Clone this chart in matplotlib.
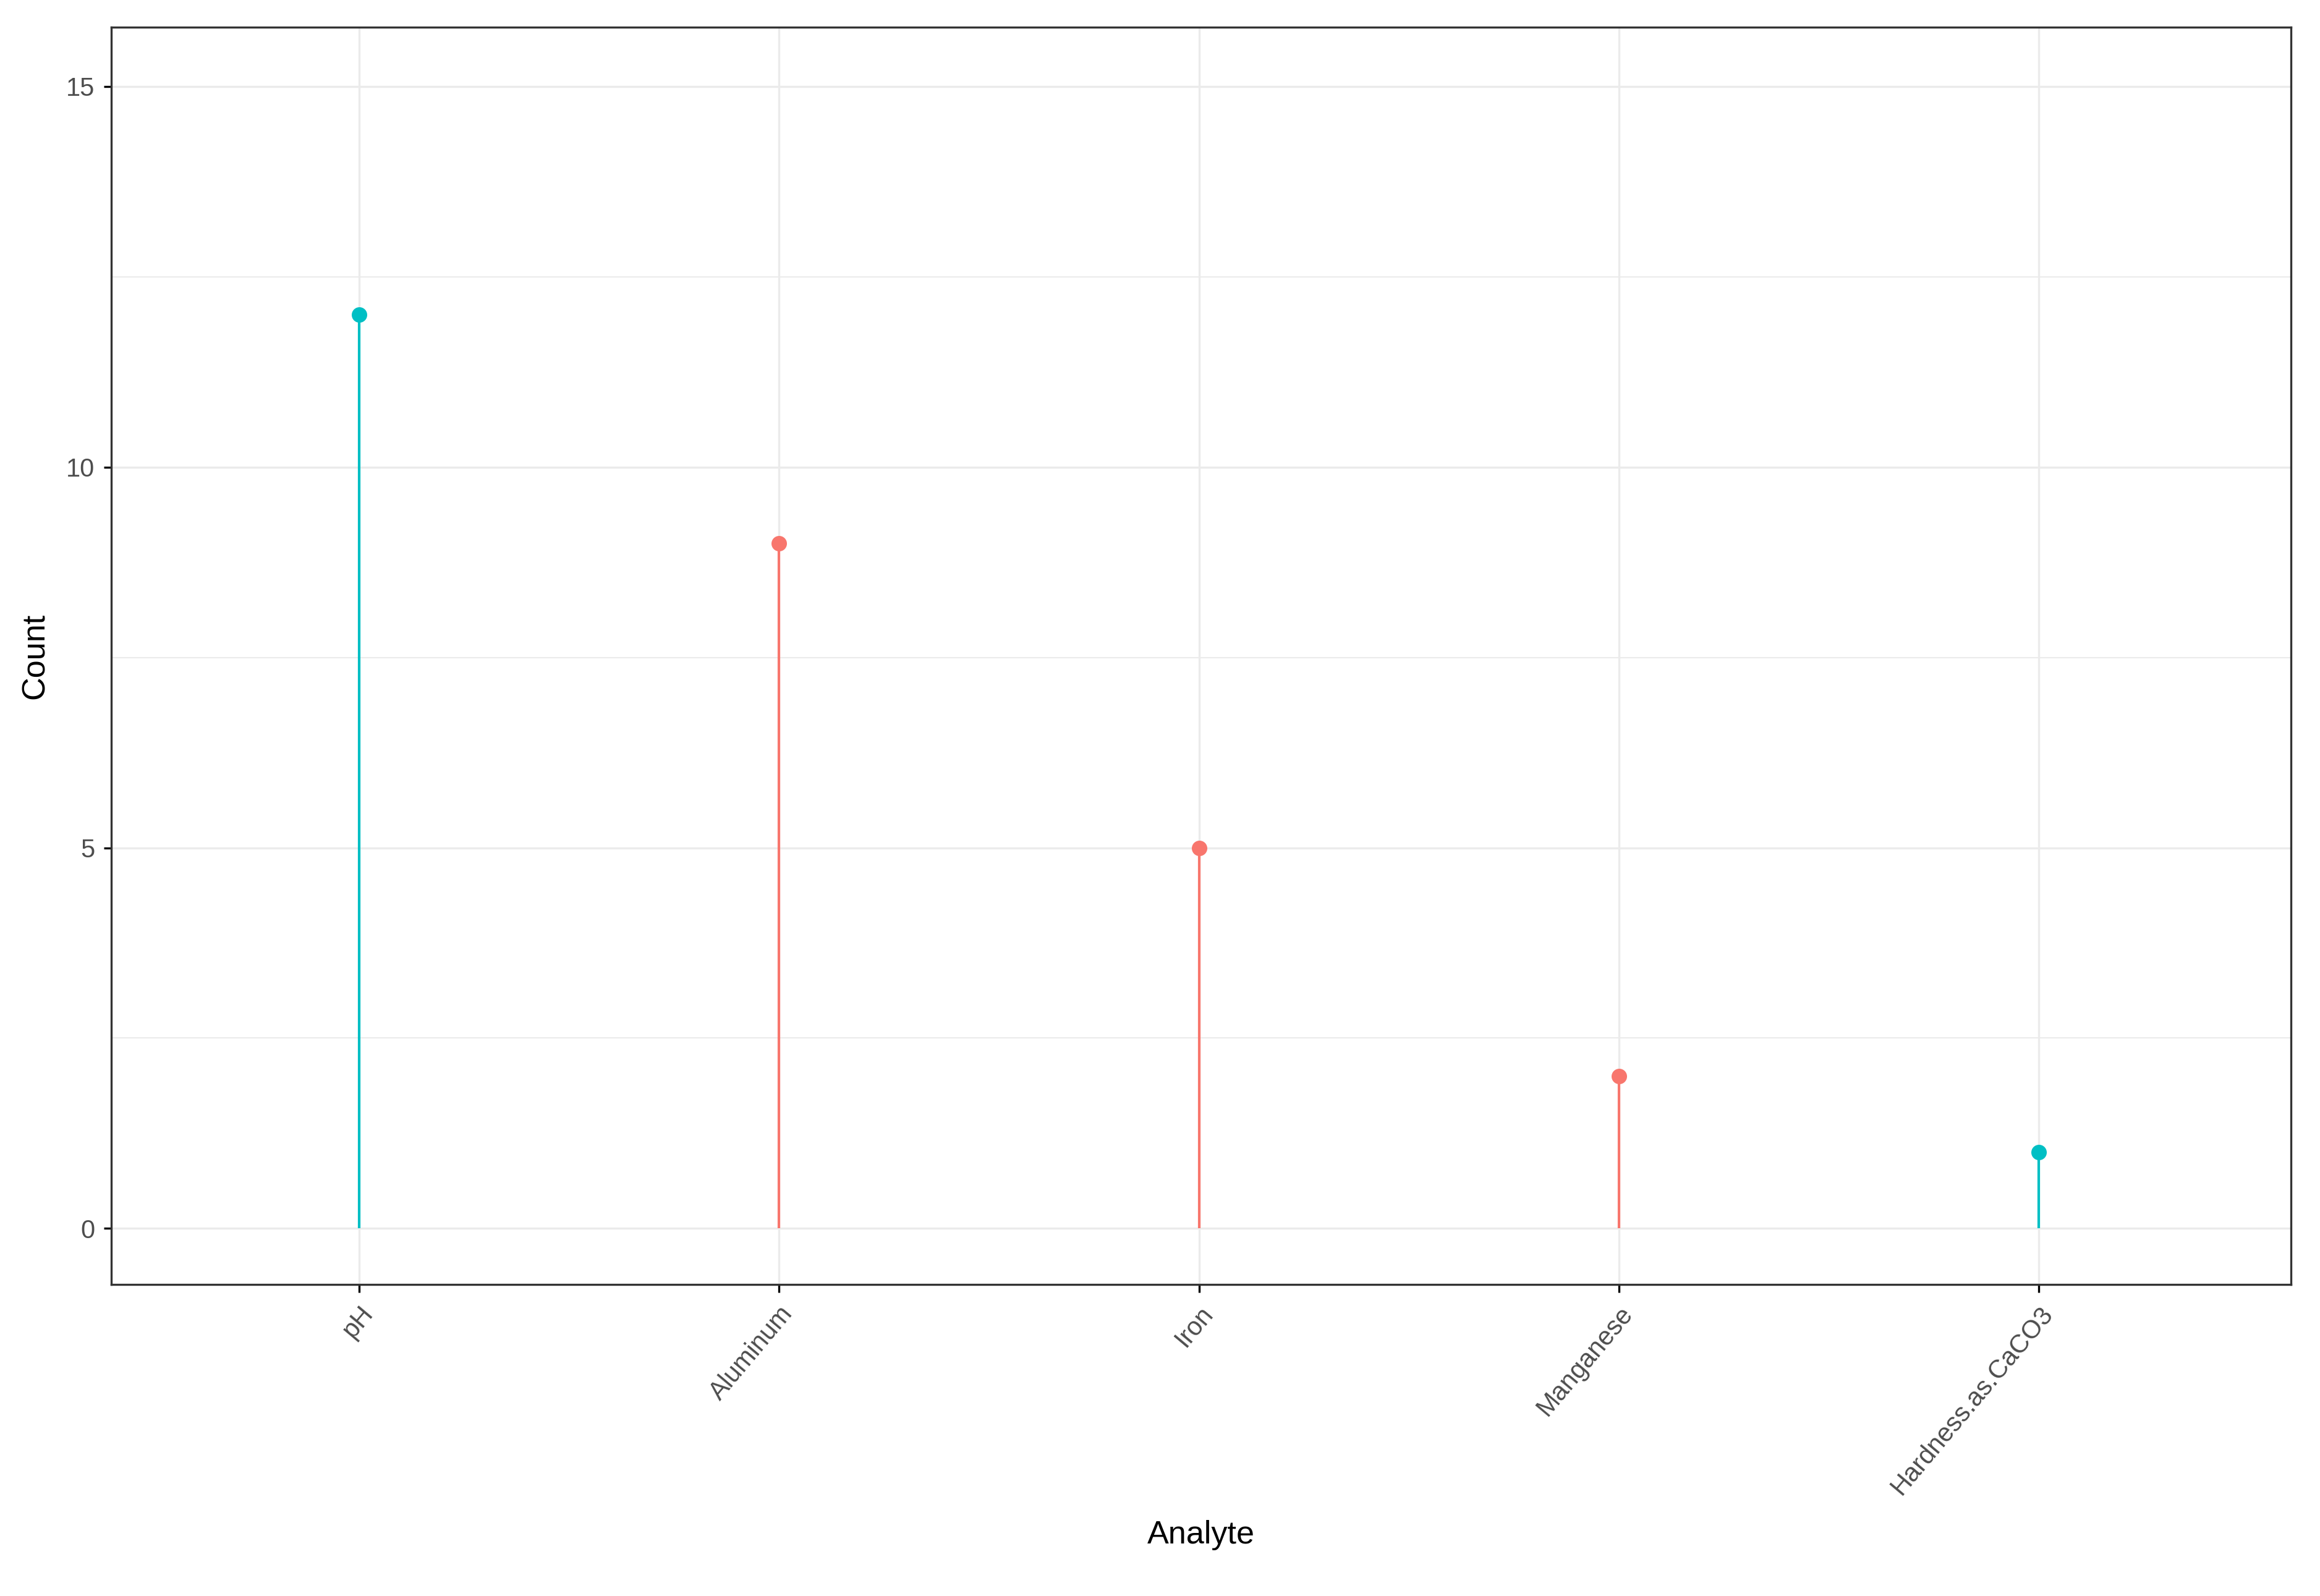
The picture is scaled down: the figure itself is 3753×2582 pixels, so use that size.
import matplotlib
matplotlib.use("Agg")
import matplotlib.pyplot as plt
from matplotlib.ticker import MultipleLocator

plt.rcParams['font.family'] = ['Liberation Sans', 'DejaVu Sans']

analytes = ["pH", "Aluminum", "Iron", "Manganese", "Hardness.as.CaCO3"]
counts = [12, 9, 5, 2, 1]
groups = ["b", "a", "a", "a", "b"]
palette = {"a": "#F8766D", "b": "#00BFC4"}

fig = plt.figure(figsize=(12.51, 8.607), dpi=300)
ax = fig.add_axes([0.048, 0.195, 0.9395, 0.788])
x = list(range(len(analytes)))
for xi, c, g in zip(x, counts, groups):
    ax.vlines(xi, 0, c, color=palette[g], lw=1.0, zorder=3)
    ax.plot(xi, c, "o", color=palette[g], ms=5, zorder=4)
ax.set_xlim(-0.59, 4.6)
ax.set_ylim(-0.74, 15.78)
ax.set_xticks(x)
ax.set_xticklabels(analytes, rotation=50, ha="right", rotation_mode="anchor", fontsize=10, color="#4d4d4d")
ax.set_yticks([0, 5, 10, 15])
ax.yaxis.set_minor_locator(MultipleLocator(2.5))
ax.tick_params(axis="y", labelsize=10, labelcolor="#4d4d4d", length=3)
ax.tick_params(axis="x", length=3)
ax.tick_params(which="minor", length=0)
ax.grid(True, which="major", color="#ebebeb", lw=0.8)
ax.grid(True, which="minor", axis="y", color="#ebebeb", lw=0.5)
ax.set_axisbelow(True)
for s in ax.spines.values():
    s.set_linewidth(0.8)
    s.set_color("#333333")
ax.set_xlabel("Analyte", fontsize=12.5, labelpad=8)
ax.set_ylabel("Count", fontsize=12.5, labelpad=6)
fig.savefig("out.png", dpi=300)
